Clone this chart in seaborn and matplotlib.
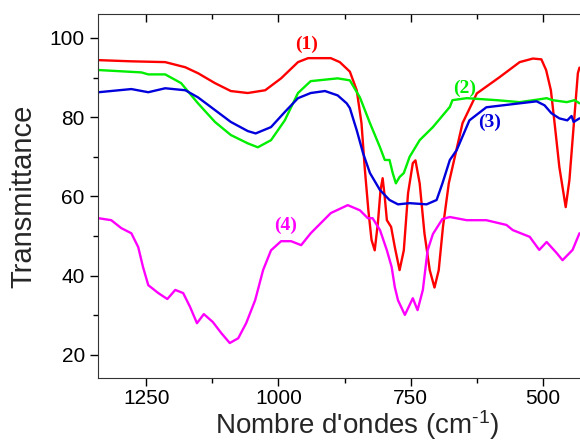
import matplotlib
matplotlib.use('Agg')
from matplotlib import pyplot as plt
from matplotlib.ticker import MultipleLocator
import pandas as pd
import seaborn as sns

# IR spectra (wavenumber in cm-1, transmittance)
wn_1 = [1340, 1278, 1214, 1176, 1152, 1120, 1090, 1058, 1025, 995, 963, 944, 901, 884,
        865, 852, 843, 837, 830, 824, 818, 812, 807, 803, 799, 795, 787, 780, 771, 763,
        755, 746, 741, 733, 724, 714, 705, 697, 689, 678, 652, 625, 582, 544, 519, 503,
        494, 485, 478, 469, 457, 450, 443, 434, 431]
tr_1 = [94.4, 94.1, 93.9, 92.6, 91.1, 88.6, 86.6, 86.1, 86.8, 89.8, 93.9, 94.9, 94.9, 93.9,
        91.5, 86.8, 78.5, 67.4, 56.5, 49.0, 46.4, 53.3, 61.6, 64.6, 59.8, 54.0, 52.3, 47.2, 41.4, 46.4,
        60.8, 68.4, 69.1, 63.3, 50.7, 41.4, 37.0, 41.4, 52.3, 63.3, 78.5, 86.0, 90.1, 93.9, 94.8, 94.6,
        91.9, 86.8, 78.5, 67.4, 57.3, 64.1, 76.0, 91.1, 92.5]

wn_2 = [1340, 1259, 1246, 1214, 1184, 1152, 1120, 1090, 1058, 1039, 1014, 988, 963, 939, 888,
        865, 846, 827, 808, 799, 790, 784, 778, 771, 763, 752, 733, 708, 676, 671, 644,
        588, 544, 507, 493, 482, 455, 440, 431]
tr_2 = [91.9, 91.3, 90.8, 90.8, 88.6, 83.5, 78.8, 75.5, 73.4, 72.4, 74.2, 79.2, 86.1, 89.1, 89.8,
        89.3, 85.0, 78.5, 72.4, 69.2, 69.2, 65.9, 63.3, 64.9, 65.9, 70.0, 74.2, 77.5, 82.6, 84.3, 84.8,
        84.3, 83.8, 84.5, 84.8, 84.3, 83.8, 84.3, 83.5]

wn_3 = [1340, 1278, 1246, 1214, 1176, 1152, 1120, 1090, 1058, 1043, 1014, 988, 963, 939, 912,
        888, 871, 865, 852, 840, 827, 808, 790, 774, 752, 720, 701, 690, 676, 663, 639,
        607, 544, 512, 497, 484, 469, 454, 446, 442, 431]
tr_3 = [86.3, 87.1, 86.3, 87.3, 86.8, 85.0, 81.8, 78.8, 76.5, 75.9, 77.5, 81.3, 84.8, 86.1, 86.6,
        85.5, 83.5, 82.3, 76.7, 70.9, 65.9, 61.6, 59.1, 58.0, 58.3, 58.0, 59.1, 63.3, 69.2, 71.7, 79.2,
        82.5, 83.5, 84.0, 83.0, 81.0, 79.7, 79.2, 80.3, 78.8, 79.7]

wn_4 = [1340, 1316, 1297, 1278, 1265, 1256, 1246, 1227, 1210, 1195, 1180, 1167, 1154, 1141, 1124,
        1108, 1092, 1076, 1061, 1044, 1029, 1014, 995, 976, 957, 939, 901, 869, 846, 831,
        822, 808, 795, 786, 780, 774, 761, 746, 737, 727, 718, 708, 690, 676, 644, 607,
        569, 557, 525, 507, 493, 474, 463, 444, 431]
tr_4 = [54.5, 54.0, 52.0, 50.7, 47.2, 42.2, 37.6, 35.6, 34.1, 36.4, 35.6, 32.1, 28.0, 30.3, 28.3,
        25.5, 23.0, 24.2, 28.0, 33.8, 41.4, 46.4, 48.7, 48.7, 47.7, 50.7, 55.8, 57.8, 56.5, 54.5,
        54.5, 51.5, 46.4, 42.2, 37.1, 33.8, 30.1, 34.3, 31.3, 36.4, 46.4, 50.5, 54.3, 54.8, 54.0, 54.0,
        52.8, 51.5, 49.8, 46.5, 48.5, 45.7, 43.9, 46.5, 50.7]

labels = ['(1)', '(2)', '(3)', '(4)']
colors = ['#ff0000', '#00ee00', '#0000dd', '#ff00ff']

frames = []
for lab, wn, tr in zip(labels, [wn_1, wn_2, wn_3, wn_4], [tr_1, tr_2, tr_3, tr_4]):
    frames.append(pd.DataFrame({'wn': wn, 'tr': tr, 'sample': lab}))
spectra = pd.concat(frames, ignore_index=True)

sns.set_style('ticks')
plt.rcParams['font.family'] = ['Liberation Sans', 'DejaVu Sans']
plt.rcParams['mathtext.fontset'] = 'custom'
plt.rcParams['mathtext.rm'] = 'Liberation Sans'
plt.rcParams['mathtext.it'] = 'Liberation Sans'

fig = plt.figure(figsize=(5.8, 4.43), dpi=100)
# the original frame runs past the right edge of the picture
ax = fig.add_axes([0.169, 0.147, 0.893, 0.821])

sns.lineplot(data=spectra, x='wn', y='tr', hue='sample', palette=colors,
             linewidth=1.7, legend=False, ax=ax)

ax.set_xlim(1341, 362)
ax.set_ylim(14.2, 106)
ax.xaxis.set_major_locator(MultipleLocator(250))
ax.xaxis.set_minor_locator(MultipleLocator(125))
ax.yaxis.set_major_locator(MultipleLocator(20))
ax.yaxis.set_minor_locator(MultipleLocator(10))
ax.tick_params(axis='both', which='both', labelsize=15, width=1, colors='black')
ax.tick_params(axis='both', which='major', length=6, direction='out')
ax.tick_params(axis='both', which='minor', length=3.5, direction='out')
ax.tick_params(axis='x', which='both', top=True, pad=2)
ax.spines['right'].set_visible(False)
for s in ['left', 'bottom', 'top']:
    ax.spines[s].set_color('#333333')

# inward ticks on the top spine
for t in ax.xaxis.get_major_ticks() + ax.xaxis.get_minor_ticks():
    t.tick2line.set_marker(3)

ax.set_xlabel("Nombre d'ondes (cm$^{\\text{-1}}$)", fontsize=20, labelpad=0)
ax.set_ylabel('Transmittance', fontsize=21, labelpad=9)

# curve labels
lab_pos = [(946, 98.4), (648, 87.3), (601, 78.8), (986, 52.7)]
for lab, col, (x, y) in zip(labels, colors, lab_pos):
    ax.text(x, y, lab, color=col, fontsize=14, fontweight='bold',
            family='Liberation Serif', ha='center', va='center')

plt.savefig('out.png', dpi=100)
